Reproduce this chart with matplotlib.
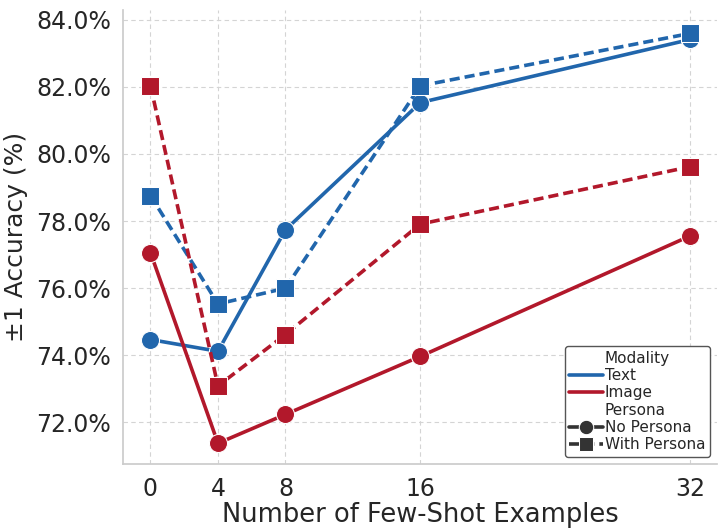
import pandas as pd
import matplotlib
matplotlib.use('Agg')
import matplotlib.pyplot as plt
import seaborn as sns
from matplotlib.ticker import FuncFormatter

shots = [0, 4, 8, 16, 32]
text_no = [74.47, 74.12, 77.74, 81.53, 83.41]
text_with = [78.76, 75.53, 76.00, 82.03, 83.59]
image_no = [77.06, 71.38, 72.24, 73.97, 77.56]
image_with = [82.03, 73.09, 74.62, 77.91, 79.62]

rows = []
for mod, per, vals in [('Text', 'No Persona', text_no), ('Text', 'With Persona', text_with),
                       ('Image', 'No Persona', image_no), ('Image', 'With Persona', image_with)]:
    for s, v in zip(shots, vals):
        rows.append({'shots': s, 'acc': v, 'Modality': mod, 'Persona': per})
df = pd.DataFrame(rows)

sns.set_theme(style='whitegrid')
plt.rcParams['grid.linestyle'] = (0, (4, 3))
plt.rcParams['grid.linewidth'] = 0.8
plt.rcParams['grid.color'] = '#d4d4d4'
plt.rcParams['font.family'] = ['DejaVu Sans']

fig, ax = plt.subplots(figsize=(7.18, 5.32), dpi=100)
sns.lineplot(data=df, x='shots', y='acc', hue='Modality', style='Persona',
             palette={'Text': '#2166ac', 'Image': '#b2182b'},
             markers={'No Persona': 'o', 'With Persona': 's'},
             dashes={'No Persona': '', 'With Persona': (2.8, 1.4)},
             markersize=13, linewidth=2.6, ax=ax)

ax.set_xticks(shots)
ax.set_xlim(-1.6, 33.6)
ax.set_ylim(70.75, 84.3)
ax.yaxis.set_major_formatter(FuncFormatter(lambda v, p: f'{v:.1f}%'))
ax.tick_params(labelsize=17, pad=3)
ax.set_xlabel('Number of Few-Shot Examples', fontsize=18.5, labelpad=1)
ax.set_ylabel('±1 Accuracy (%)', fontsize=18, labelpad=6)
sns.despine(ax=ax)
ax.legend(loc='lower right', fontsize=11, handlelength=2.2, borderpad=0.3,
          labelspacing=0.15, handletextpad=0.1, framealpha=1, edgecolor='#555555',
          markerscale=0.8)

fig.subplots_adjust(left=0.172, right=0.999, top=0.982, bottom=0.127)
fig.savefig('out.png')
